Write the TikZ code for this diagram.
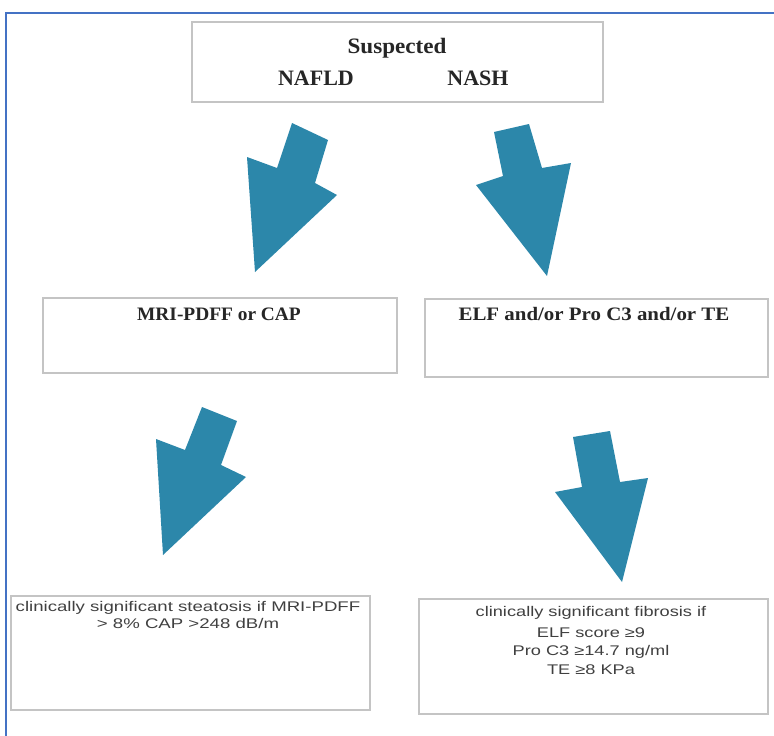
\documentclass[tikz,border=0pt]{standalone}
\usepackage{fontspec}
\usepackage{graphicx}
\setmainfont{Liberation Serif}
\newfontfamily\sansf{Liberation Sans}
\definecolor{frameblue}{HTML}{4472C4}
\definecolor{arrowteal}{HTML}{2C87AA}
\definecolor{boxgray}{HTML}{C4C4C4}
\newcommand\hstretch[2]{\scalebox{#1}[1]{#2}}
\tikzset{
  box/.style={draw=boxgray, line width=1.4pt, fill=white, inner sep=0pt},
  headtext/.style={font=\fontsize{22}{26}\selectfont\bfseries, text=black!85, inner sep=0pt},
  midtext/.style={font=\fontsize{19}{22}\selectfont\bfseries, text=black!85, inner sep=0pt},
  smalltext/.style={font=\sansf\fontsize{14}{17}\selectfont, text=black!75, inner sep=0pt},
  blockarrow/.style={fill=arrowteal, draw=none}
}
\begin{document}
\begin{tikzpicture}[x=1pt, y=-1pt]
\useasboundingbox (0,0) rectangle (774,736);
\fill[white] (0,0) rectangle (774,736);

% outer frame, open to the right and bottom
\draw[frameblue, line width=2pt] (6,736) -- (6,13) -- (774,13);

% boxes
\node[box, minimum width=411pt, minimum height=80pt] (top) at (397.5,62) {};
\node[box, minimum width=354pt, minimum height=75pt] (midL) at (220,335.5) {};
\node[box, minimum width=343pt, minimum height=78pt] (midR) at (596.5,338) {};
\node[box, minimum width=359pt, minimum height=114pt] (botL) at (190.5,653) {};
\node[box, minimum width=349pt, minimum height=115pt] (botR) at (593.5,656.5) {};

% texts
\node[headtext] (tSusp) at (397,48) {\hstretch{1.05}{Suspected}};
\node[headtext] (tNafld) at (316,78) {\hstretch{1.0}{NAFLD}};
\node[headtext] (tNash) at (478,78) {\hstretch{1.0}{NASH}};

\node[midtext] (tMri) at (219,314) {\hstretch{1.02}{MRI-PDFF or CAP}};
\node[midtext] (tElf) at (594,314) {\hstretch{1.1}{ELF and/or Pro C3 and/or TE}};

\node[smalltext] (tStea1) at (188,608) {\hstretch{1.33}{clinically significant steatosis if MRI-PDFF}};
\node[smalltext] (tStea2) at (188,623) {\hstretch{1.33}{> 8\% CAP >248 dB/m}};

\node[smalltext] (tFib1) at (591,613) {\hstretch{1.3}{clinically significant fibrosis if}};
\node[smalltext] (tFib2) at (591,633) {\hstretch{1.3}{ELF score ≥9}};
\node[smalltext] (tFib3) at (591,652) {\hstretch{1.3}{Pro C3 ≥14.7 ng/ml}};
\node[smalltext] (tFib4) at (591,670) {\hstretch{1.3}{TE ≥8 KPa}};

% block arrows
\fill[blockarrow] (292,123) -- (328,140) -- (315,183) -- (337,195) -- (255,272) -- (247,157) -- (277,168) -- cycle;
\fill[blockarrow] (494,132) -- (529,124) -- (542,168) -- (571,163) -- (547,276) -- (476,185) -- (503,176) -- cycle;
\fill[blockarrow] (202,407) -- (237,421) -- (221,465) -- (246,477) -- (163,555) -- (156,439) -- (185,450) -- cycle;
\fill[blockarrow] (573,437) -- (610,431) -- (620,482) -- (648,478) -- (622,582) -- (555,492) -- (582,487) -- cycle;
\end{tikzpicture}
\end{document}
